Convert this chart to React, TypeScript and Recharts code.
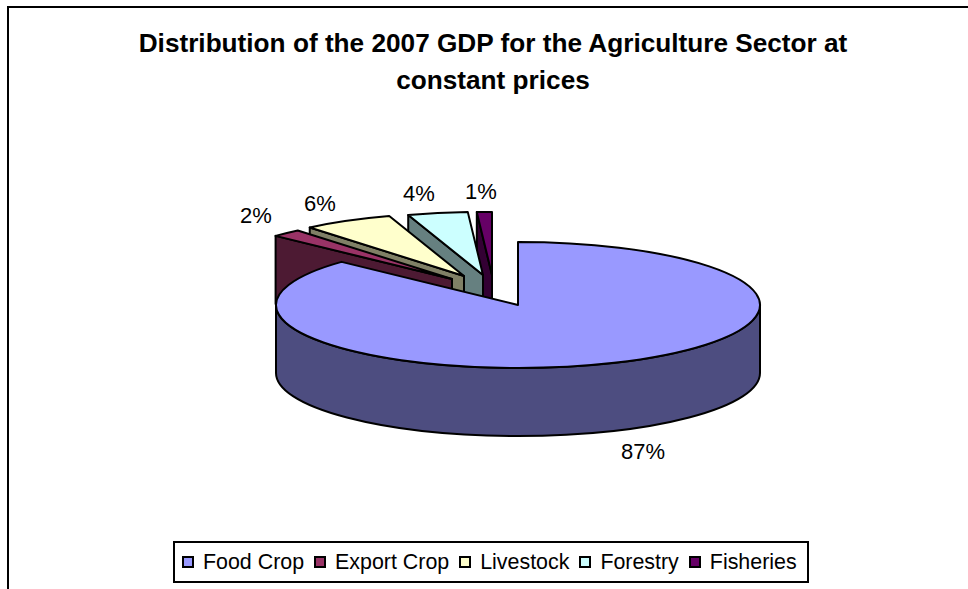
import { Pie, PieChart, Legend } from 'recharts';

const sliceNames = ['Fisheries', 'Forestry', 'Livestock', 'Export Crop', 'Food Crop'];
const sliceShares = [1, 4, 6, 2, 87];
const sliceColors = ['#660066', '#CCFFFF', '#FFFFCC', '#993366', '#9999FF'];
const wallColors = ['#330033', '#668080', '#808066', '#4D1A33', '#4D4D80'];

const chartData = sliceNames.map((name, i) => ({
  name,
  value: sliceShares[i],
  fill: sliceColors[i],
  wall: wallColors[i],
}));

// how far each wedge is pulled out of the pie
const explode: Record<string, [number, number]> = {
  Fisheries: [-26, -30],
  Forestry: [-35, -30],
  Livestock: [-54, -29],
  'Export Crop': [-66, -26],
  'Food Crop': [0, 0],
};

const labelSpots: Record<string, [number, number]> = {
  Fisheries: [481, 191],
  Forestry: [419, 193],
  Livestock: [320, 203],
  'Export Crop': [256, 215],
  'Food Crop': [643, 451],
};

const TILT = 63 / 242;
const DEPTH = 68;
const RAD = Math.PI / 180;

function Wedge3D(props: any) {
  const { cx, cy, outerRadius, startAngle, endAngle, fill, wall, name } = props;
  const [dx, dy] = explode[name] ?? [0, 0];
  const ax = cx + dx;
  const ay = cy + dy;
  const rx = outerRadius;
  const ry = outerRadius * TILT;
  const at = (deg: number) => ({
    x: ax + rx * Math.cos(deg * RAD),
    y: ay - ry * Math.sin(deg * RAD),
  });
  const lo = Math.min(startAngle, endAngle);
  const hi = Math.max(startAngle, endAngle);
  const a = at(lo);
  const b = at(hi);
  const large = hi - lo > 180 ? 1 : 0;
  const top = `M${ax},${ay} L${a.x},${a.y} A${rx},${ry} 0 ${large} 0 ${b.x},${b.y} Z`;
  const stroke = { stroke: '#000', strokeWidth: 2, strokeLinejoin: 'round' as const };

  if (name === 'Food Crop') {
    // front rim of the big slice, left extreme to right extreme
    const l = at(180);
    const r = at(360);
    const side = `M${l.x},${l.y} A${rx},${ry} 0 0 0 ${r.x},${r.y} L${r.x},${r.y + DEPTH} A${rx},${ry} 0 0 1 ${l.x},${l.y + DEPTH} Z`;
    return (
      <g>
        <path d={side} fill={wall} {...stroke} />
        <path d={top} fill={fill} {...stroke} />
      </g>
    );
  }

  // the cut face on the left side of the wedge is the one that shows
  const cut = `M${b.x},${b.y} L${ax},${ay} L${ax},${ay + DEPTH} L${b.x},${b.y + DEPTH} Z`;
  return (
    <g>
      <path d={cut} fill={wall} {...stroke} />
      <path d={top} fill={fill} {...stroke} />
    </g>
  );
}

function renderShare(props: any) {
  const [x, y] = labelSpots[props.name] ?? [0, 0];
  return (
    <text x={x} y={y} textAnchor="middle" dominantBaseline="central" fontSize={22} fill="#000">
      {`${props.value}%`}
    </text>
  );
}

function LegendBox({ payload }: any) {
  const rows = [...(payload ?? [])].reverse();
  return (
    <div
      style={{
        display: 'flex',
        alignItems: 'center',
        gap: 10,
        width: 636,
        height: 42,
        paddingLeft: 7,
        boxSizing: 'border-box',
        border: '2px solid #000',
        background: '#fff',
        fontSize: 21.4,
        color: '#000',
      }}
    >
      {rows.map((row: any) => (
        <span key={row.value} style={{ display: 'flex', alignItems: 'center', gap: 9 }}>
          <span style={{ width: 8, height: 8, background: row.color, border: '2px solid #000' }} />
          {row.value}
        </span>
      ))}
    </div>
  );
}

export default function App() {
  return (
    <div
      style={{
        position: 'absolute',
        left: 0,
        top: 0,
        width: 968,
        height: 589,
        overflow: 'hidden',
        background: '#fff',
        fontFamily: '"Liberation Sans", Arial, sans-serif',
      }}
    >
      <div
        style={{
          position: 'absolute',
          left: 7,
          top: 6,
          width: 1100,
          height: 700,
          boxSizing: 'border-box',
          border: '2px solid #000',
        }}
      />
      <div
        style={{
          position: 'absolute',
          left: 0,
          top: 25,
          width: 986,
          textAlign: 'center',
          fontSize: 26.2,
          fontWeight: 700,
          lineHeight: '37px',
        }}
      >
        Distribution of the 2007 GDP for the Agriculture Sector at
        <br />
        constant prices
      </div>
      <PieChart
        width={968}
        height={589}
        margin={{ top: 0, right: 0, bottom: 0, left: 0 }}
        style={{ position: 'absolute', left: 0, top: 0 }}
      >
        <Pie
          data={chartData}
          dataKey="value"
          nameKey="name"
          cx={518}
          cy={305}
          outerRadius={242}
          startAngle={90}
          endAngle={450}
          paddingAngle={0}
          shape={Wedge3D}
          label={renderShare}
          labelLine={false}
          isAnimationActive={false}
        />
        <Legend
          content={LegendBox}
          itemSorter={null}
          wrapperStyle={{ position: 'absolute', left: 173, top: 541, width: 636, height: 42 }}
        />
      </PieChart>
    </div>
  );
}
